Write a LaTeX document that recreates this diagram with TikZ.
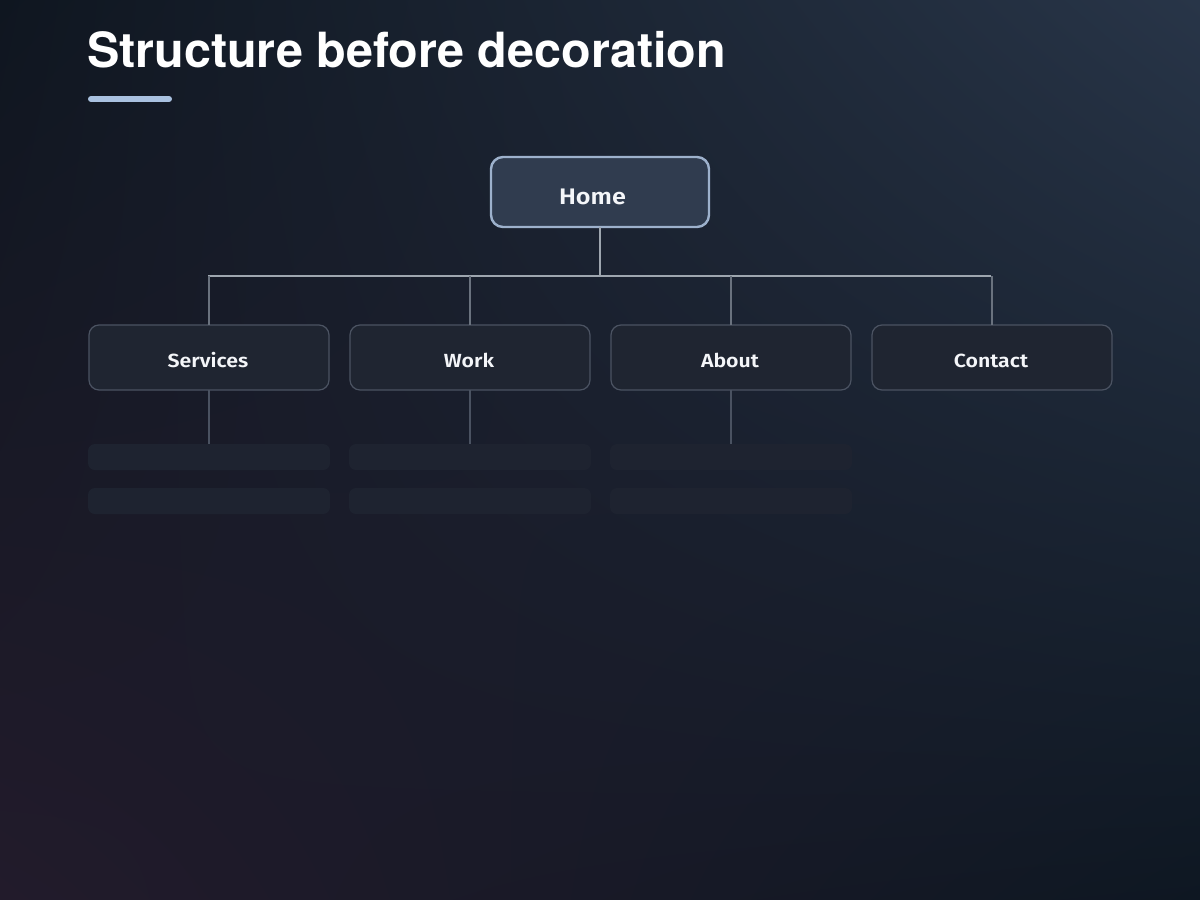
\documentclass[tikz,border=0pt]{standalone}
\usepackage{fontspec}
\usetikzlibrary{shadings}
\setmainfont{Fira Sans}[BoldFont={Fira Sans SemiBold}, BoldFeatures={FakeStretch=1.12}]
\newfontfamily\titlefont{TeX Gyre Heros}
\definecolor{bgUL}{HTML}{0F1620}
\definecolor{bgUR}{HTML}{283548}
\definecolor{bgLL}{HTML}{221B2B}
\definecolor{bgLR}{HTML}{0E1722}
\definecolor{homefill}{HTML}{303C4F}
\definecolor{homeborder}{HTML}{9DB1CC}
\definecolor{childfill}{HTML}{1F2531}
\definecolor{childborder}{HTML}{4B5362}
\definecolor{phfill}{HTML}{1E2330}
\definecolor{busline}{HTML}{9EA6AF}
\definecolor{dropline}{HTML}{6A727E}
\definecolor{subline}{HTML}{4A5261}
\definecolor{accent}{HTML}{A9C1E0}
\definecolor{labeltext}{HTML}{F4F6F9}
\tikzset{
  homebox/.style={draw=homeborder, line width=2.4pt, fill=homefill, rounded corners=12pt,
    minimum width=218pt, minimum height=70pt, inner sep=0pt, outer sep=0pt},
  homelab/.style={text=labeltext, font=\fontsize{22.5}{26}\selectfont\bfseries, inner sep=0pt},
  childbox/.style={draw=childborder, line width=1.2pt, fill=childfill, rounded corners=10pt,
    minimum width=240pt, minimum height=65pt, inner sep=0pt, outer sep=0pt},
  childlab/.style={text=labeltext, font=\fontsize{19}{22}\selectfont\bfseries, inner sep=0pt},
  phbox/.style={fill=phfill, rounded corners=7pt, minimum width=242pt, minimum height=26pt,
    inner sep=0pt, outer sep=0pt},
  busstyle/.style={draw=busline, line width=2.4pt},
  dropstyle/.style={draw=dropline, line width=1.6pt},
  substyle/.style={draw=subline, line width=1.3pt},
}
\begin{document}
\begin{tikzpicture}[x=1pt,y=-1pt]
\useasboundingbox (0,0) rectangle (1200,900);
\shade[upper left=bgUL, upper right=bgUR, lower left=bgLL, lower right=bgLR] (0,0) rectangle (1200,900);
% title
\node[anchor=base west, inner sep=0pt, text=white, font=\titlefont\fontsize{48.5}{56}\selectfont\bfseries] (title) at (87,67) {Structure before decoration};
\coordinate (ulA) at (91,99);
\coordinate (ulB) at (169,99);
\draw[accent, line width=6pt, line cap=round] (ulA) -- (ulB);
% nodes
\node[homebox] (home) at (600,192) {};
\node[homelab, anchor=base] (homelabel) at (592.5,204) {Home};
\node[childbox] (services) at (209,357.5) {};
\node[childbox] (work) at (470,357.5) {};
\node[childbox] (about) at (731,357.5) {};
\node[childbox] (contact) at (992,357.5) {};
\node[childlab, anchor=base] (serviceslab) at (208,367) {Services};
\node[childlab, anchor=base] (worklab) at (469,367) {Work};
\node[childlab, anchor=base] (aboutlab) at (730,367) {About};
\node[childlab, anchor=base] (contactlab) at (991,367) {Contact};
\node[phbox] (s1) at (209,457) {};
\node[phbox] (s2) at (209,501) {};
\node[phbox] (w1) at (470,457) {};
\node[phbox] (w2) at (470,501) {};
\node[phbox] (a1) at (731,457) {};
\node[phbox] (a2) at (731,501) {};
% connectors
\coordinate (busL) at (208,276);
\coordinate (busR) at (991,276);
\coordinate (hub) at (home.south |- busL);
\draw[busstyle] (home.south) -- (hub);
\draw[busstyle] (busL) -- (busR);
\foreach \c in {services,work,about,contact}{
  \draw[dropstyle] (\c.north |- busL) -- (\c.north);
}
\draw[substyle] (services.south) -- (s1.north);
\draw[substyle] (work.south) -- (w1.north);
\draw[substyle] (about.south) -- (a1.north);
\end{tikzpicture}
\end{document}
